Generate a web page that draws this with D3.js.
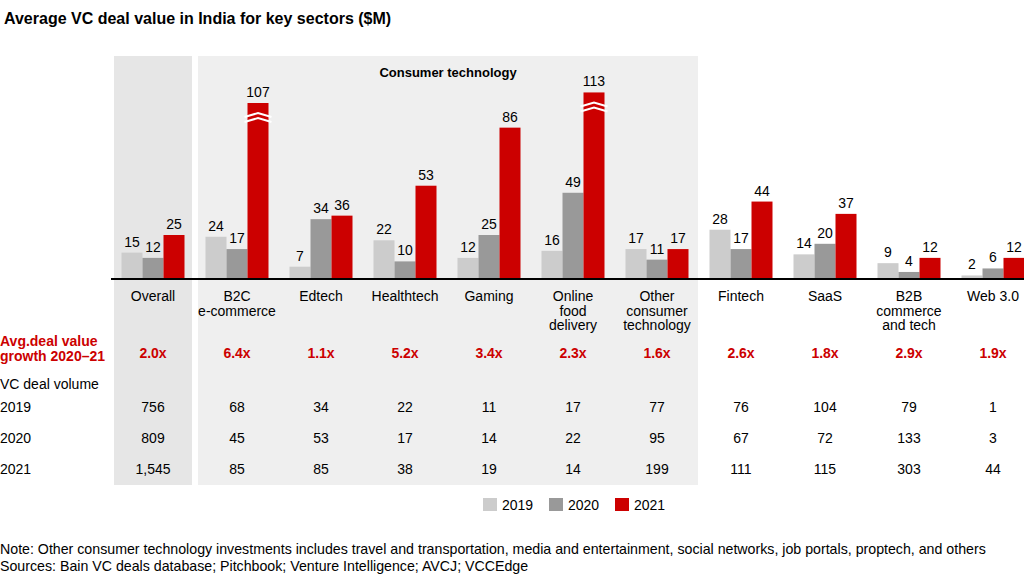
<!DOCTYPE html><html><head><meta charset="utf-8"><script src="https://cdn.jsdelivr.net/npm/d3@7"></script>
<style>body{margin:0;background:#fff}text{font-family:Arial,"Liberation Sans",sans-serif}</style></head><body><svg width="1024" height="576"></svg>
<script>
const categories=[["Overall"],["B2C","e-commerce"],["Edtech"],["Healthtech"],["Gaming"],["Online","food","delivery"],["Other","consumer","technology"],["Fintech"],["SaaS"],["B2B","commerce","and tech"],["Web 3.0"]];
const v2019=[15,24,7,22,12,16,17,28,14,9,2];
const v2020=[12,17,34,10,25,49,11,17,20,4,6];
const v2021=[25,107,36,53,86,113,17,44,37,12,12];
const shown2021=[25,100,36,53,86,106,17,44,37,12,12];
const growth=["2.0x","6.4x","1.1x","5.2x","3.4x","2.3x","1.6x","2.6x","1.8x","2.9x","1.9x"];
const vol2019=["756","68","34","22","11","17","77","76","104","79","1"];
const vol2020=["809","45","53","17","14","22","95","67","72","133","3"];
const vol2021=["1,545","85","85","38","19","14","199","111","115","303","44"];
const years=["2019","2020","2021"];
const colors=["#cccccc","#999999","#cc0000"];
const svg=d3.select("svg");
const fs=14;
const x=d3.scaleBand().domain(d3.range(11)).range([111,1035]).paddingInner(0);
const y=d3.scaleLinear().domain([0,100]).range([279,103]);
const bw=21;
svg.append("rect").attr("x",114).attr("y",56).attr("width",78).attr("height",429).attr("fill","#e6e6e6");
svg.append("rect").attr("x",198).attr("y",56).attr("width",500).attr("height",429).attr("fill","#efefef");
svg.append("text").attr("x",4).attr("y",24).attr("font-size",16).attr("font-weight","bold").text("Average VC deal value in India for key sectors ($M)");
svg.append("text").attr("x",448).attr("y",77).attr("text-anchor","middle").attr("font-size",13).attr("font-weight","bold").text("Consumer technology");
const series=[v2019,v2020,shown2021];
const labels=[v2019,v2020,v2021];
d3.range(11).forEach(i=>{
  const cx=x(i)+x.bandwidth()/2;
  series.forEach((s,k)=>{
    const bx=cx-1.5*bw+k*bw;
    svg.append("rect").attr("x",bx).attr("y",y(s[i])).attr("width",bw).attr("height",279-y(s[i])).attr("fill",colors[k]);
    svg.append("text").attr("x",bx+bw/2).attr("y",y(s[i])-6).attr("text-anchor","middle").attr("font-size",fs).text(labels[k][i]);
  });
  if(v2021[i]!==shown2021[i]){
    const bx=cx+0.5*bw, yy=y(shown2021[i])+10;
    [0,5].forEach(o=>svg.append("path").attr("d",`M${bx-3},${yy+o+4} L${bx+bw/2},${yy+o} L${bx+bw+3},${yy+o+4}`).attr("stroke","#fff").attr("stroke-width",2).attr("fill","none"));
  }
  categories[i].forEach((t,j)=>svg.append("text").attr("x",cx).attr("y",301+j*14.5).attr("text-anchor","middle").attr("font-size",fs).text(t));
  svg.append("text").attr("x",cx).attr("y",358).attr("text-anchor","middle").attr("font-size",fs).attr("font-weight","bold").attr("fill","#cc0000").text(growth[i]);
  [vol2019,vol2020,vol2021].forEach((r,j)=>svg.append("text").attr("x",cx).attr("y",412+j*31).attr("text-anchor","middle").attr("font-size",fs).text(r[i]));
});
svg.append("line").attr("x1",111).attr("x2",1024).attr("y1",279).attr("y2",279).attr("stroke","#000").attr("stroke-width",2);
svg.append("text").attr("x",0).attr("y",346).attr("font-size",fs).attr("font-weight","bold").attr("fill","#cc0000").text("Avg.deal value");
svg.append("text").attr("x",0).attr("y",361).attr("font-size",fs).attr("font-weight","bold").attr("fill","#cc0000").text("growth 2020–21");
svg.append("text").attr("x",0).attr("y",389).attr("font-size",fs).text("VC deal volume");
years.forEach((t,j)=>svg.append("text").attr("x",0).attr("y",412+j*31).attr("font-size",fs).text(t));
years.forEach((t,k)=>{const lx=483+k*66;
  svg.append("rect").attr("x",lx).attr("y",498).attr("width",14).attr("height",13).attr("fill",colors[k]);
  svg.append("text").attr("x",lx+19).attr("y",510).attr("font-size",fs).text(t);});
svg.append("text").attr("x",0).attr("y",554).attr("font-size",14.2).text("Note: Other consumer technology investments includes travel and transportation, media and entertainment, social networks, job portals, proptech, and others");
svg.append("text").attr("x",0).attr("y",571).attr("font-size",14.2).text("Sources: Bain VC deals database; Pitchbook; Venture Intelligence; AVCJ; VCCEdge");
</script></body></html>
